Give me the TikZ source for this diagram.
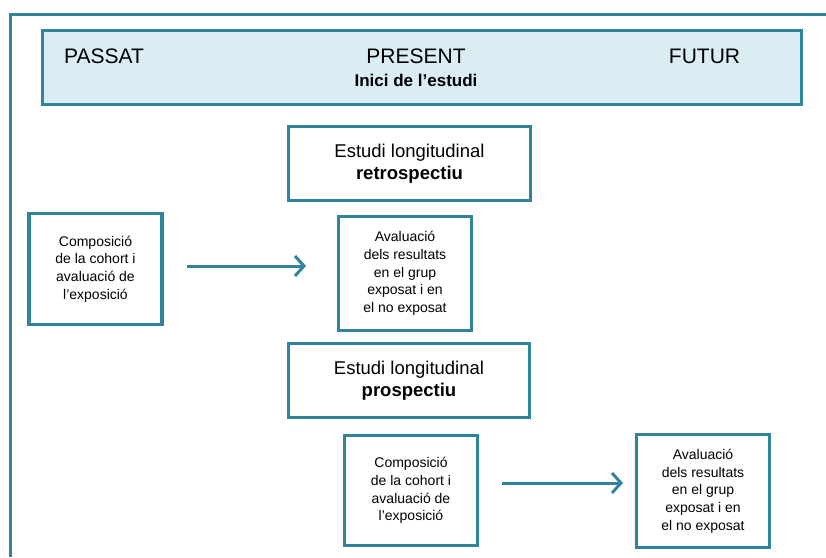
\documentclass[tikz,border=0pt]{standalone}
\usepackage{fontspec}
\setmainfont{Liberation Sans}
\usetikzlibrary{arrows.meta}
\definecolor{teal}{HTML}{31849B}
\definecolor{lightfill}{HTML}{DAEDF3}
\tikzset{
  frame/.style={draw=teal, line width=3pt},
  bigbox/.style={draw=teal, line width=3.5pt, fill=white, inner sep=0pt, align=center,
    font=\fontsize{18.5}{22}\selectfont},
  smallbox/.style={draw=teal, line width=3.5pt, fill=white, inner sep=0pt, align=center,
    minimum width=133pt, font=\fontsize{14}{17.7}\selectfont},
  headbox/.style={draw=teal, line width=3pt, fill=lightfill, inner sep=0pt},
  headtext/.style={font=\fontsize{21}{25}\selectfont, inner sep=0pt},
  flow/.style={draw=teal, line width=3pt, -{Straight Barb[length=9pt, width=20pt, line width=3pt]}}
}
\begin{document}
\begin{tikzpicture}[x=1pt,y=-1pt]
\useasboundingbox (0,0) rectangle (826,557);
% outer frame
\coordinate (fbot) at (10.7,557);
\coordinate (fcorner) at (10.7,14);
\coordinate (fright) at (826,14);
\draw[frame] (fbot) -- (fcorner) -- (fright);
% header
\node[headbox, minimum width=759pt, minimum height=74pt] (head) at (422,67.5) {};
\node[headtext, anchor=west] (passat) at (64,56) {PASSAT};
\node[headtext] (present) at (416,56) {PRESENT};
\node[headtext] (futur) at (704.5,56) {FUTUR};
\node[inner sep=0pt, font=\fontsize{17}{20}\selectfont\bfseries] (inici) at (416,80) {Inici de l’estudi};
% retrospective
\node[bigbox, minimum width=242pt, minimum height=74pt] (retro) at (409.5,163.5)
  {Estudi longitudinal\\\textbf{retrospectiu}};
\node[smallbox, minimum height=111pt] (comp1) at (95.5,269)
  {Composició\\de la cohort i\\avaluació de\\l’exposició};
\node[smallbox, minimum height=114pt] (eval1) at (405,273.5)
  {Avaluació\\dels resultats\\en el grup\\exposat i en\\el no exposat};
\coordinate (a1s) at (187,266);
\coordinate (a1e) at (306,266);
\draw[flow] (a1s) -- (a1e);
% prospective
\node[bigbox, minimum width=241pt, minimum height=74pt] (prosp) at (409,380.5)
  {Estudi longitudinal\\\textbf{prospectiu}};
\node[smallbox, minimum height=110pt] (comp2) at (411,490.5)
  {Composició\\de la cohort i\\avaluació de\\l’exposició};
\node[smallbox, minimum height=113pt] (eval2) at (703,491)
  {Avaluació\\dels resultats\\en el grup\\exposat i en\\el no exposat};
\coordinate (a2s) at (502,483);
\coordinate (a2e) at (623,483);
\draw[flow] (a2s) -- (a2e);
\end{tikzpicture}
\end{document}
